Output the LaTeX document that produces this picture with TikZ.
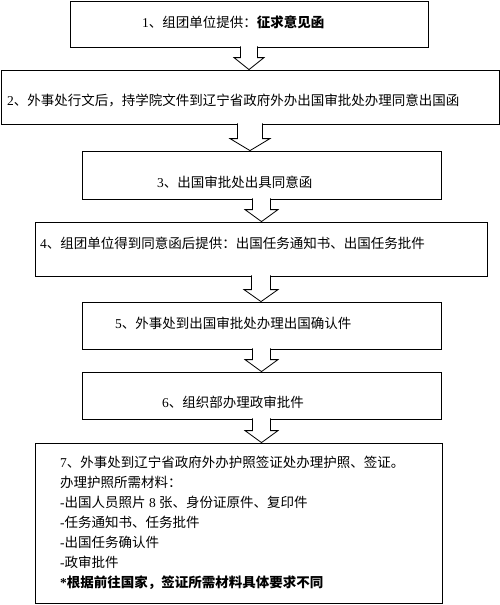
\documentclass[tikz,border=0pt]{standalone}
\usepackage{fontspec}
\setmainfont{Liberation Serif}
\newfontfamily\cjk{Noto Sans CJK SC}
\usetikzlibrary{calc}
\newcommand{\zh}[1]{{\cjk #1}}

\tikzset{
	box/.style={draw, line width=0.8pt, inner sep=0pt},
	txt/.style={anchor=west, inner sep=0pt, font=\fontsize{13.5}{20}\selectfont},
	blockarrow/.style={draw, fill=white, line width=0.8pt, line join=miter}
}

\begin{document}
\begin{tikzpicture}[x=1pt, y=-1pt]
\useasboundingbox (0,0) rectangle (500,605);

\node (s1) at (249,24) [box, minimum width=358pt, minimum height=46pt] {};
\node (s2) at (250,97) [box, minimum width=498pt, minimum height=54pt] {};
\node (s3) at (261.5,175) [box, minimum width=359pt, minimum height=48pt] {};
\node (s4) at (261,249) [box, minimum width=452pt, minimum height=54pt] {};
\node (s5) at (261.5,325.5) [box, minimum width=359pt, minimum height=47pt] {};
\node (s6) at (261.5,395.5) [box, minimum width=359pt, minimum height=47pt] {};
\node (s7) at (238.5,523) [box, minimum width=407pt, minimum height=160pt] {};

\node (t1) at (142,22) [txt] {1\zh{、组团单位提供：\textbf{征求意见函}}};
\node (t2) at (7,100) [txt] {2\zh{、外事处行文后，持学院文件到辽宁省政府外办出国审批处办理同意出国函}};
\node (t3) at (157,182) [txt] {3\zh{、出国审批处出具同意函}};
\node (t4) at (40,243) [txt] {4\zh{、组团单位得到同意函后提供：出国任务通知书、出国任务批件}};
\node (t5) at (115,323) [txt] {5\zh{、外事处到出国审批处办理出国确认件}};
\node (t6) at (162,402) [txt] {6\zh{、组织部办理政审批件}};
\node (t7) at (60,523) [txt, align=left] {7\zh{、外事处到辽宁省政府外办护照签证处办理护照、签证。}\\
	\zh{办理护照所需材料：}\\
	-\zh{出国人员照片} 8 \zh{张、身份证原件、复印件}\\
	-\zh{任务通知书、任务批件}\\
	-\zh{出国任务确认件}\\
	-\zh{政审批件}\\
	\textbf{*\zh{根据前往国家，签证所需材料具体要求不同}}};

\foreach \a/\b/\w/\h in {s1/s2/8.5/15, s2/s3/12.5/20, s3/s4/9/16.5, s4/s5/9.5/17, s5/s6/9/16.5, s6/s7/9/16.5}
	\draw[blockarrow] ($(\a.south)+(-\w,-1)$) -- ($(\a.south |- \b.north)+(-\w,-12)$)
		-- ($(\a.south |- \b.north)+(-\h,-12)$) -- (\a.south |- \b.north)
		-- ($(\a.south |- \b.north)+(\h,-12)$) -- ($(\a.south |- \b.north)+(\w,-12)$)
		-- ($(\a.south)+(\w,-1)$);

\end{tikzpicture}
\end{document}
